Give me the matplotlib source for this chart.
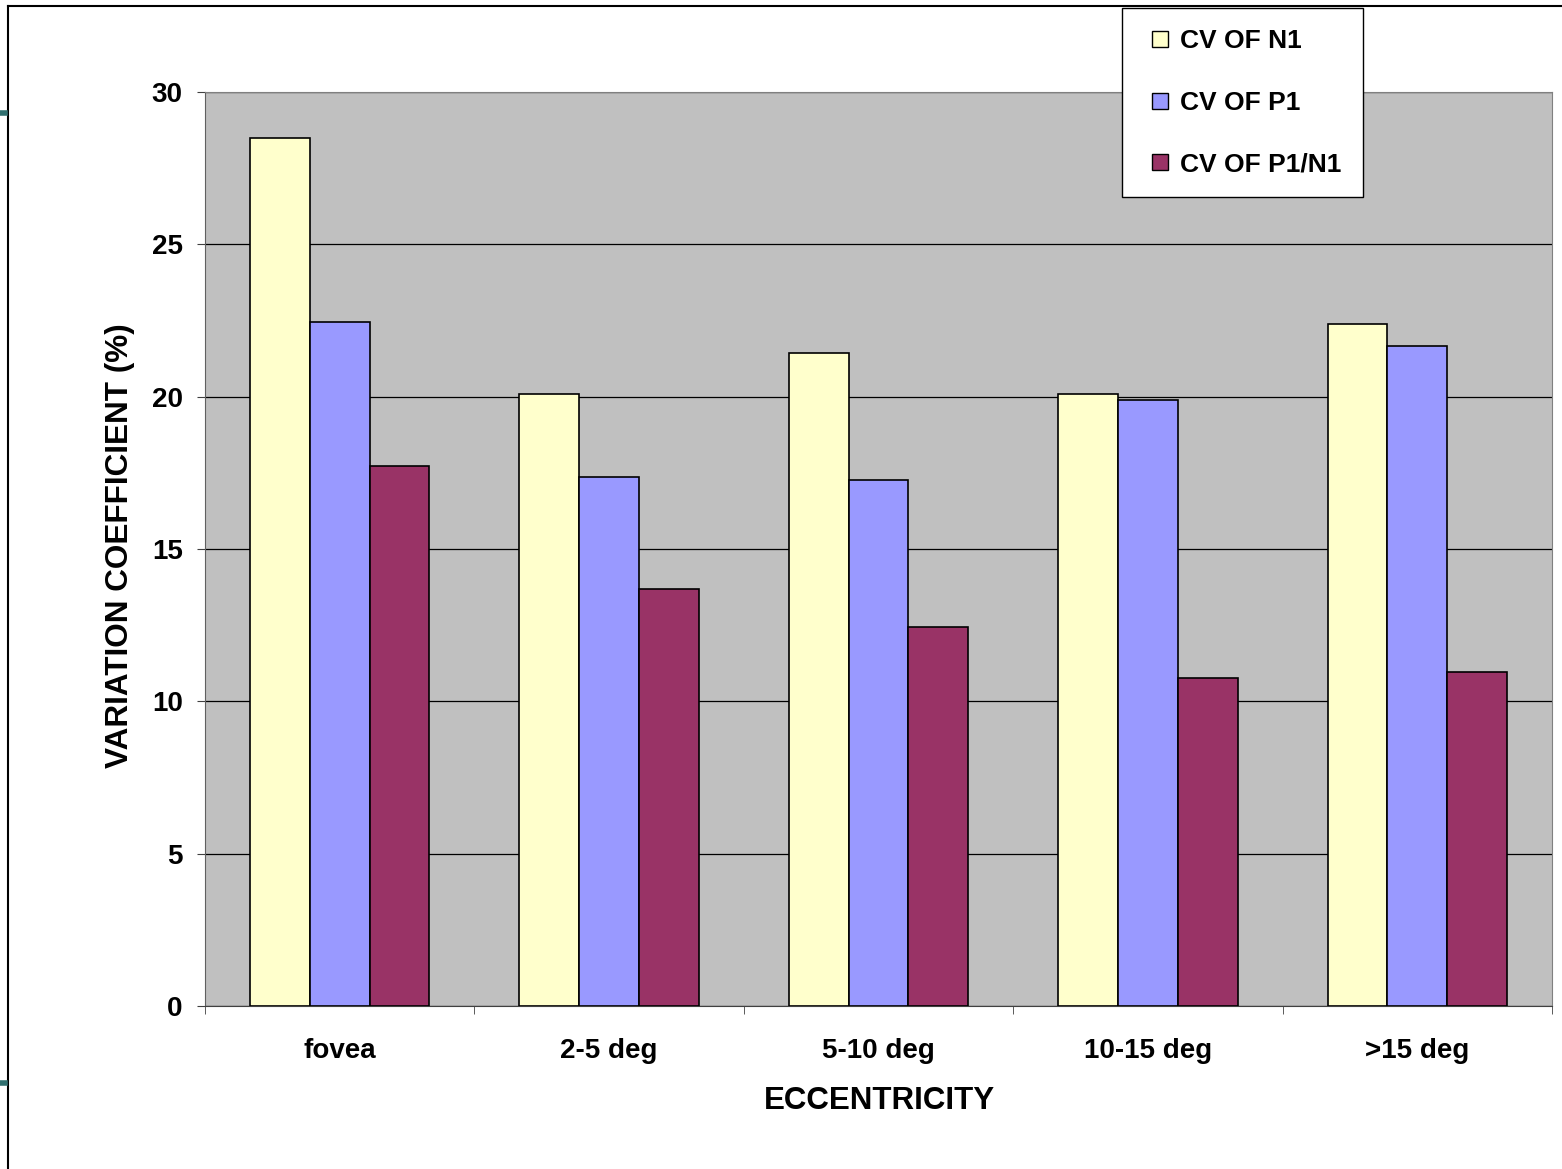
import numpy as np
import matplotlib.pyplot as plt
from matplotlib.lines import Line2D

categories = ['fovea', '2-5 deg', '5-10 deg', '10-15 deg', '>15 deg']
cv_n1 = [28.5, 20.1, 21.45, 20.08, 22.4]
cv_p1 = [22.45, 17.35, 17.25, 19.9, 21.65]
cv_p1_n1 = [17.72, 13.7, 12.45, 10.78, 10.95]
series_labels = ['CV OF N1', 'CV OF P1', 'CV OF P1/N1']
series_colors = ['#ffffcc', '#9999ff', '#993366']
y_ticks = [0, 5, 10, 15, 20, 25, 30]

plt.rcParams['font.family'] = ['Liberation Sans', 'DejaVu Sans']
plt.rcParams['font.weight'] = 'bold'

fig = plt.figure(figsize=(15.62, 11.69), dpi=100)
ax = fig.add_axes([0.1312, 0.1394, 0.8624, 0.7819])
ax.set_facecolor('#c0c0c0')

x = np.arange(len(categories))
width = 0.222
for i, (vals, lab, col) in enumerate(zip([cv_n1, cv_p1, cv_p1_n1], series_labels, series_colors)):
    ax.bar(x + (i - 1) * width, vals, width, color=col, edgecolor='black',
           linewidth=1.2, label=lab, zorder=3)

ax.set_ylim(0, 30)
ax.set_xlim(-0.5, len(categories) - 0.5)
ax.set_yticks(y_ticks)
ax.yaxis.grid(True, color='black', linewidth=0.9, zorder=1)
ax.set_axisbelow(True)

ax.set_xticks(x)
ax.set_xticklabels(categories, fontsize=20, fontweight='bold')
ax.set_xticks(np.arange(-0.5, len(categories)), minor=True)
ax.tick_params(axis='x', which='major', length=0, pad=23)
ax.tick_params(axis='x', which='minor', length=6, color='#404040')
ax.tick_params(axis='y', length=6, pad=10, labelsize=20, color='#404040')
for t in ax.get_yticklabels():
    t.set_fontweight('bold')

for side in ['top', 'right']:
    ax.spines[side].set_color('#808080')
ax.spines['left'].set_color('#606060')
ax.spines['bottom'].set_color('#404040')

ax.set_xlabel('ECCENTRICITY', fontsize=22.5, fontweight='bold')
ax.set_ylabel('VARIATION COEFFICIENT (%)', fontsize=22.7, fontweight='bold')
ax.xaxis.set_label_coords(0.501, -0.088)
ax.yaxis.set_label_coords(-0.052, 0.504)

handles = [Line2D([], [], linestyle='none', marker='s', markersize=11.5,
                  markerfacecolor=c, markeredgecolor='black', markeredgewidth=1.0)
           for c in series_colors]
leg = fig.legend(handles, series_labels, loc='upper left',
                 bbox_to_anchor=(0.7183, 0.9932), fontsize=19,
                 frameon=True, fancybox=False, shadow=False, framealpha=1,
                 edgecolor='black', handlelength=1.3, handleheight=0.6,
                 handletextpad=0.1, labelspacing=1.42, borderpad=0.8,
                 borderaxespad=0)
leg.get_frame().set_linewidth(1.0)
for t in leg.get_texts():
    t.set_fontweight('bold')

# slide frame lines
fig.add_artist(Line2D([8 / 1562, 8 / 1562], [0, 1 - 6 / 1169], color='black', linewidth=1.5))
fig.add_artist(Line2D([8 / 1562, 1], [1 - 6 / 1169, 1 - 6 / 1169], color='black', linewidth=1.5))
fig.add_artist(Line2D([0, 5 / 1562], [1 - 113 / 1169, 1 - 113 / 1169], color='#2f6f6f', linewidth=4))
fig.add_artist(Line2D([0, 5 / 1562], [1 - 1083 / 1169, 1 - 1083 / 1169], color='#2f6f6f', linewidth=4))

fig.savefig('out.png', dpi=100)
